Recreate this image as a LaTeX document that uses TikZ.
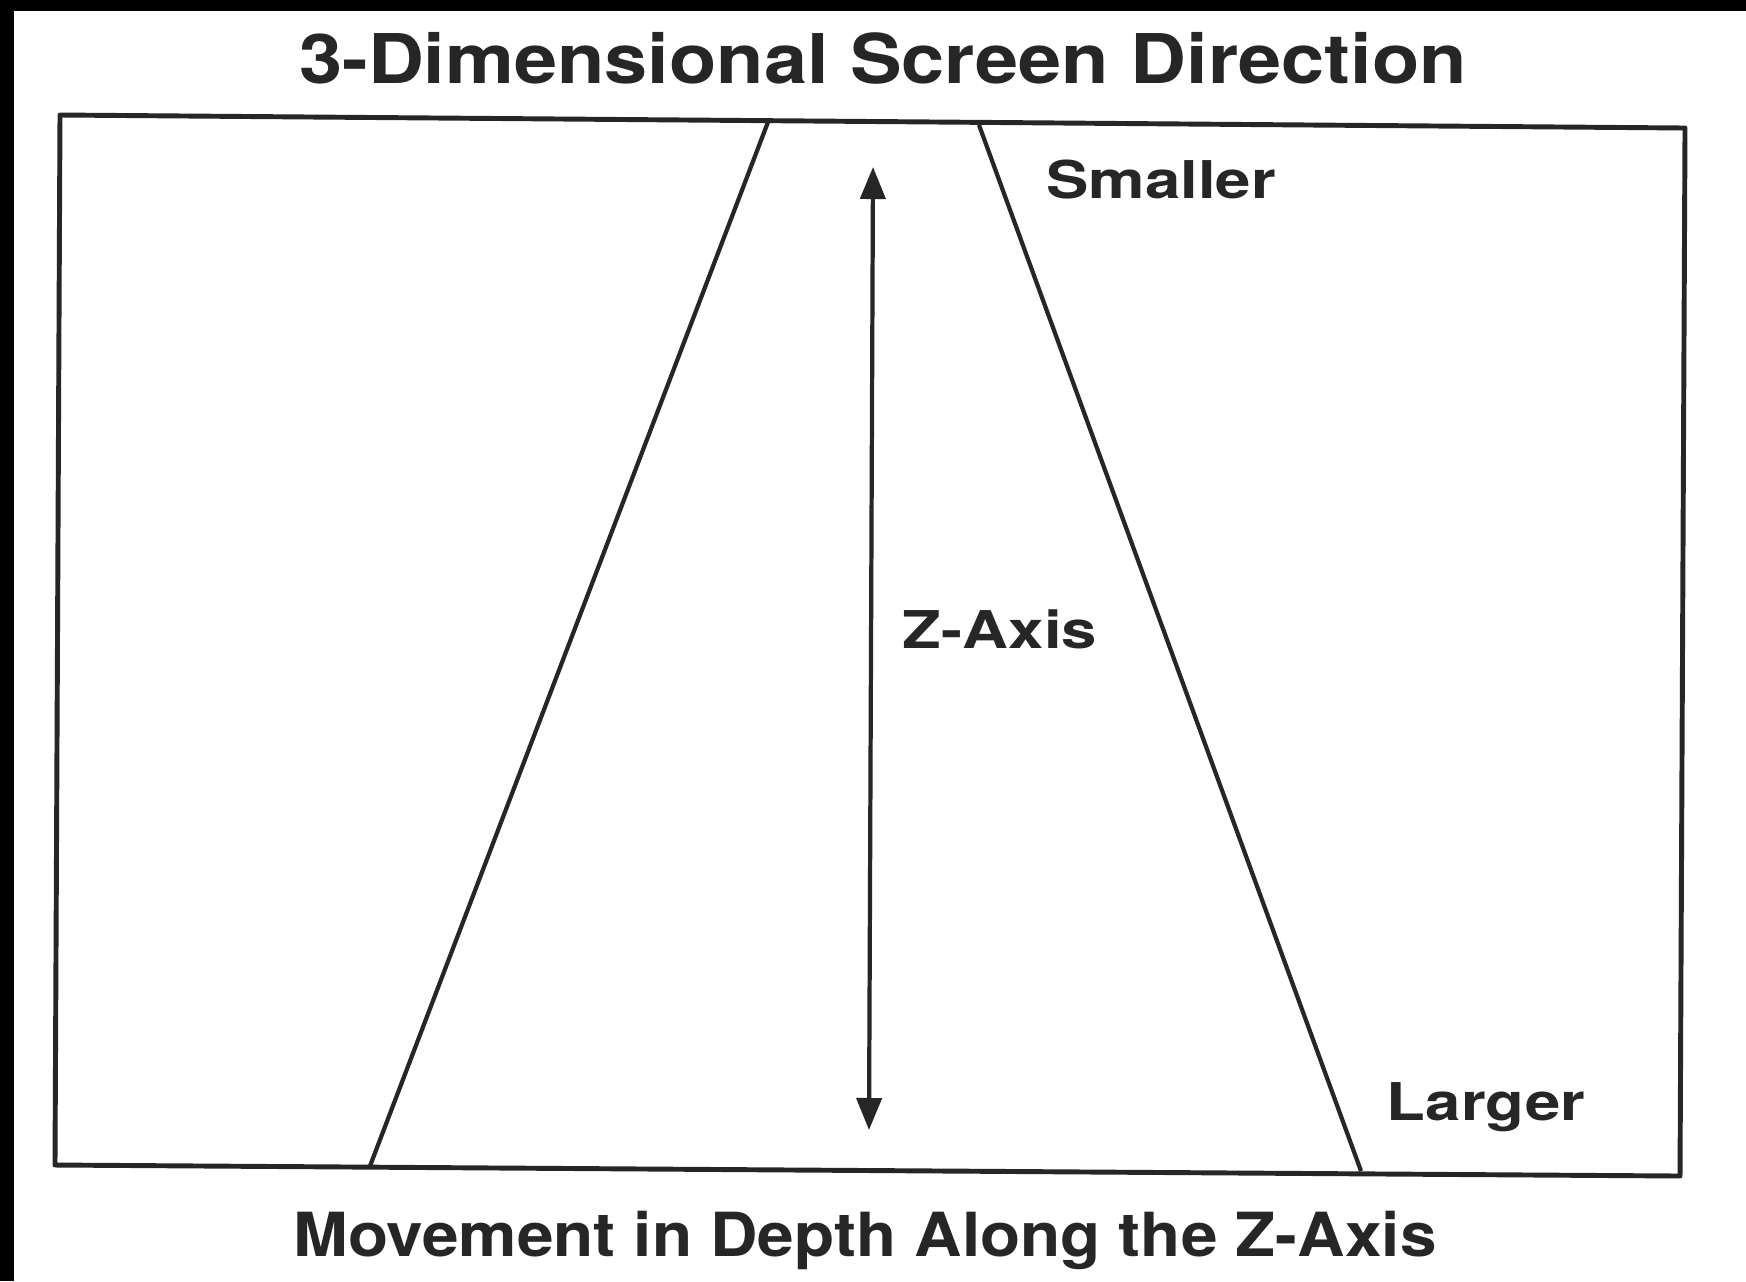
\documentclass[tikz,border=0pt]{standalone}
\usepackage{fontspec}
\usetikzlibrary{arrows.meta}
\newfontfamily\headfont{TeX Gyre Heros}[FakeStretch=1.13]
\newfontfamily\footfont{TeX Gyre Heros}[FakeStretch=1.08]
\newfontfamily\lblfont{TeX Gyre Heros}[FakeStretch=1.22]
\tikzset{
  frame/.style={draw=black!85, line width=1.4pt, line join=round},
  edge/.style={draw=black!85, line width=1.2pt},
  caption/.style={anchor=base, inner sep=0pt, text=black!85},
}
\begin{document}
\begin{tikzpicture}[x=0.01cm, y=-0.01cm, >={Triangle[length=0.32cm, width=0.25cm]}]
        \useasboundingbox (0,0) rectangle (1746,1281);
        \fill[white] (0,0) rectangle (1746,1281);
        % Scan edges
        \fill[black] (0,0) rectangle (1746,11);
        \fill[black] (0,0) rectangle (14,1281);

        % Screen corners
        \coordinate (TL) at (60,115);
        \coordinate (TR) at (1685,128);
        \coordinate (BR) at (1680,1176);
        \coordinate (BL) at (55,1165);
        \draw[frame] (TL) -- (TR) -- (BR) -- (BL) -- cycle;

        % Perspective lines
        \coordinate (LTop) at (768,122);
        \coordinate (LBot) at (370,1166);
        \coordinate (RTop) at (979,125);
        \coordinate (RBot) at (1361,1171);
        \draw[edge] (LTop) -- (LBot);
        \draw[edge] (RTop) -- (RBot);

        % Depth axis
        \coordinate (zTop) at (873,167);
        \coordinate (zBot) at (869,1130);
        \draw[edge, <->] (zTop) -- (zBot);

        % Labels
        \node[caption, font=\headfont\bfseries\fontsize{19.5}{23}\selectfont] (title) at (883,83) {3-Dimensional Screen Direction};
        \node[caption, font=\lblfont\bfseries\fontsize{14.8}{18}\selectfont] (small) at (1161,198) {Smaller};
        \node[caption, font=\lblfont\bfseries\fontsize{14.8}{18}\selectfont] (zaxis) at (1000,648) {Z-Axis};
        \node[caption, font=\lblfont\bfseries\fontsize{14.8}{18}\selectfont] (large) at (1486,1120) {Larger};
        \node[caption, font=\footfont\bfseries\fontsize{17.3}{21}\selectfont] (foot) at (865,1256) {Movement in Depth Along the Z-Axis};
\end{tikzpicture}
\end{document}
